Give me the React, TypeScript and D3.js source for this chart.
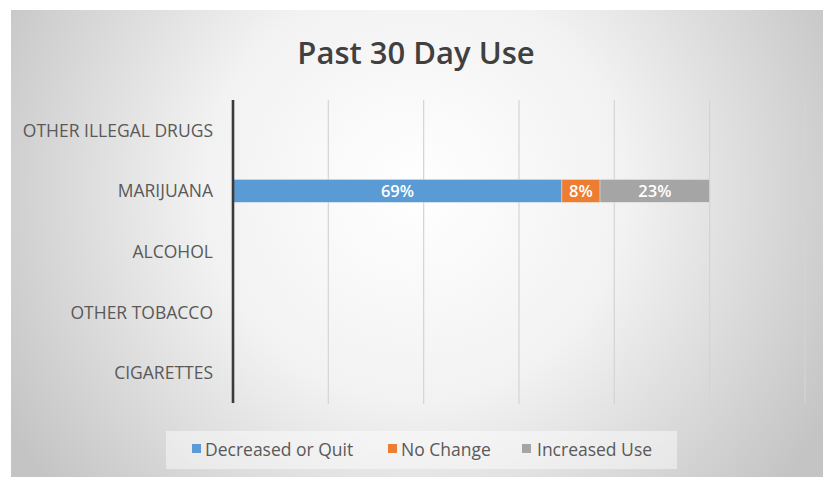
import React from "react";
import * as d3 from "d3";

const categories = ["OTHER ILLEGAL DRUGS", "MARIJUANA", "ALCOHOL", "OTHER TOBACCO", "CIGARETTES"];
const seriesNames = ["Decreased or Quit", "No Change", "Increased Use"];
const seriesColors = ["#5B9BD5", "#ED7D31", "#A5A5A5"];
const decreased = [0, 0.69, 0, 0, 0];
const noChange = [0, 0.08, 0, 0, 0];
const increased = [0, 0.23, 0, 0, 0];
const xTicks = [0, 0.2, 0.4, 0.6, 0.8, 1.0, 1.2];

const W = 823;
const H = 477;
const FONT = "'Open Sans', 'Noto Sans', sans-serif";

export default function App() {
  const x = d3.scaleLinear().domain([0, 1.2]).range([233, 805]);
  const y = d3.scaleBand<string>().domain(categories).range([100, 403]).padding(0);
  const barH = y.bandwidth() * 0.38;

  const rows = categories.map((c, i) => ({
    cat: c,
    vals: [decreased[i], noChange[i], increased[i]],
  }));
  const stack = d3.stack<any>().keys(["0", "1", "2"]).value((d: any, k: string) => d.vals[+k]);
  const stacked = stack(rows);

  const legendItems = [
    { x: 192, tx: 205 },
    { x: 388, tx: 401 },
    { x: 522, tx: 537 },
  ];

  return (
    <svg width={W} height={H} style={{ position: "absolute", left: 0, top: 0 }} fontFamily={FONT}>
      <defs>
        <radialGradient id="bg" gradientUnits="userSpaceOnUse" cx={415} cy={190} r={470}>
          <stop offset="0" stopColor="#ffffff" />
          <stop offset="0.45" stopColor="#f2f2f2" />
          <stop offset="1" stopColor="#c4c4c4" />
        </radialGradient>
      </defs>
      <rect x={0} y={0} width={W} height={H} fill="#ffffff" />
      <rect x={11} y={10} width={W - 11} height={H - 10} fill="url(#bg)" />

      <text x={416} y={64} textAnchor="middle" fontSize={31} fill="#404040" fontWeight={600}>
        Past 30 Day Use
      </text>

      {xTicks.slice(1).map((t) => (
        <line key={t} x1={x(t)} x2={x(t)} y1={100} y2={404} stroke="#d4d4d4" strokeWidth={1.2} />
      ))}

      {stacked.map((s, si) =>
        s.map((d: any, i: number) => {
          const v = d[1] - d[0];
          if (v <= 0) return null;
          const cy = (y(categories[i]) as number) + y.bandwidth() / 2;
          return (
            <g key={si + "-" + i}>
              <rect
                x={x(d[0])}
                y={cy - barH / 2}
                width={x(d[1]) - x(d[0])}
                height={barH}
                fill={seriesColors[si]}
                stroke="#ffffff"
                strokeOpacity={0.6}
                strokeWidth={0.6}
              />
              <text
                x={(x(d[0]) + x(d[1])) / 2}
                y={cy + 6}
                textAnchor="middle"
                fontSize={16.5}
                fontWeight={600}
                fill="#ffffff"
              >
                {Math.round(v * 100) + "%"}
              </text>
            </g>
          );
        })
      )}

      <line x1={x(0)} x2={x(0)} y1={100} y2={403} stroke="#3a3a3a" strokeWidth={2.6} />

      {categories.map((c) => (
        <text
          key={c}
          x={213}
          y={(y(c) as number) + y.bandwidth() / 2 + 6.5}
          textAnchor="end"
          fontSize={17.5}
          fill="#595959"
        >
          {c}
        </text>
      ))}

      <rect x={166} y={431} width={511} height={38} fill="#ffffff" fillOpacity={0.45} />
      {seriesNames.map((n, i) => (
        <g key={n}>
          <rect x={legendItems[i].x} y={444} width={9} height={9} fill={seriesColors[i]} />
          <text x={legendItems[i].tx} y={456} fontSize={17.5} fill="#595959">
            {n}
          </text>
        </g>
      ))}
    </svg>
  );
}
